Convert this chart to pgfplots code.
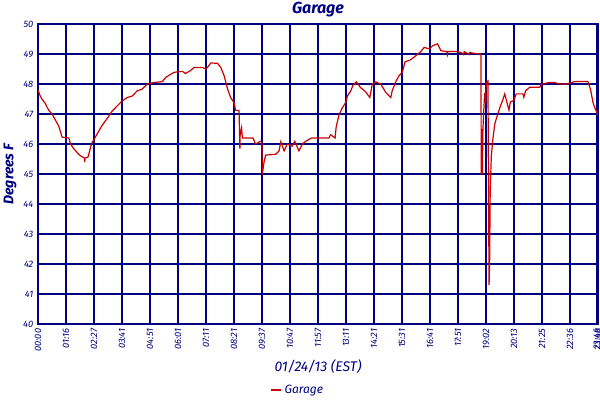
\documentclass[border=0pt]{standalone}
\usepackage{pgfplots}
\pgfplotsset{compat=1.18}
\usepackage{fontspec}
\setmainfont{Fira Sans}
\definecolor{navy}{RGB}{0,0,128}
\definecolor{gline}{RGB}{204,0,0}

\begin{document}
\begin{tikzpicture}
\useasboundingbox (-28.5pt,-57pt) rectangle (421.5pt,243pt);
\begin{axis}[
    at={(0,0)}, anchor=south west,
    scale only axis,
    width=420pt, height=225pt,
    xmin=0, xmax=20, ymin=40, ymax=50,
    xtick={0,...,20},
    xticklabels={00:00,01:16,02:27,03:41,04:51,06:01,07:11,08:21,09:37,10:47,11:57,13:11,14:21,15:31,16:41,17:51,19:02,20:13,21:25,22:36,23:48},
    extra x ticks={19.96},
    extra x tick labels={23:46},
    ytick={40,...,50},
    major tick length=0pt,
    grid=major,
    grid style={navy, line width=1.5pt},
    axis line style={navy, line width=1.5pt},
    /pgf/number format/assume math mode=true,
    x tick label style={rotate=90, anchor=east, font=\itshape\fontsize{7}{8}\selectfont, text=navy},
    y tick label style={font=\itshape\fontsize{7}{8}\selectfont, text=navy},
    title={Garage},
    title style={at={(axis description cs:0.5,1)}, anchor=center, yshift=4.5pt, font=\bfseries\itshape\fontsize{12}{14}\selectfont, text=navy},
    xlabel={01/24/13 (EST)},
    xlabel style={at={(axis description cs:0.5,0)}, anchor=center, yshift=-32.25pt, font=\itshape\fontsize{10.5}{12}\selectfont, text=navy},
    ylabel={Degrees F},
    ylabel style={at={(axis description cs:0,0.5)}, anchor=center, yshift=21pt, font=\bfseries\itshape\fontsize{10.5}{12}\selectfont, text=navy},
    legend style={at={(axis description cs:0.464,0)}, anchor=center, yshift=-49.5pt, draw=none, fill=none, font=\itshape\fontsize{9}{10}\selectfont, text=navy},
    legend image code/.code={\draw[#1] (0pt,0pt) -- (8pt,0pt);},
]
\addplot[gline, line width=0.9pt, mark=none] coordinates {
(0,47.8)(0.08,47.6)(0.14,47.5)(0.26,47.35)(0.38,47.13)(0.5,47.0)(0.62,46.8)(0.74,46.6)(0.86,46.23)(1.1,46.2)(1.16,46.0)(1.28,45.84)(1.46,45.65)(1.58,45.57)(1.66,45.53)(1.67,45.4)(1.68,45.53)(1.79,45.57)(1.87,45.87)(1.93,46.04)(2.03,46.2)(2.17,46.43)(2.29,46.62)(2.47,46.85)(2.65,47.1)(2.83,47.27)(3.01,47.44)(3.19,47.55)(3.37,47.6)(3.54,47.77)(3.72,47.83)(3.90,48.0)(4.14,48.05)(4.44,48.08)(4.56,48.22)(4.86,48.39)(5.16,48.42)(5.27,48.35)(5.45,48.45)(5.57,48.55)(5.87,48.55)(5.99,48.5)(6.05,48.55)(6.17,48.7)(6.41,48.69)(6.53,48.55)(6.65,48.27)(6.77,47.83)(6.88,47.55)(7.0,47.38)(7.06,47.12)(7.18,47.12)(7.2,46.26)(7.21,45.84)(7.22,46.3)(7.27,46.54)(7.3,46.2)(7.36,46.2)(7.68,46.2)(7.77,46.0)(7.95,46.09)(8.0,46.05)(8.01,44.98)(8.07,45.39)(8.13,45.63)(8.49,45.66)(8.61,45.77)(8.67,46.07)(8.79,45.77)(8.9,46.0)(9.08,45.93)(9.17,46.09)(9.32,45.77)(9.44,46.0)(9.56,46.09)(9.77,46.2)(10.39,46.2)(10.45,46.31)(10.61,46.2)(10.65,46.58)(10.75,46.97)(10.87,47.21)(10.99,47.38)(11.05,47.6)(11.17,47.77)(11.25,47.96)(11.37,48.07)(11.52,47.88)(11.7,47.74)(11.85,47.55)(11.94,48.0)(12.06,48.07)(12.24,48.0)(12.42,47.72)(12.6,47.55)(12.65,47.77)(12.77,48.06)(12.89,48.27)(13.01,48.39)(13.11,48.74)(13.31,48.81)(13.49,48.94)(13.67,49.08)(13.79,49.22)(13.98,49.17)(14.1,49.28)(14.27,49.34)(14.39,49.11)(14.6,49.08)(14.62,48.98)(14.64,49.08)(14.93,49.08)(15.11,49.05)(15.2,48.98)(15.22,49.08)(15.4,48.98)(15.42,49.05)(15.7,49.0)(15.82,49.0)(15.83,44.98)(15.86,46.5)(15.87,45.0)(15.89,46.5)(15.95,47.7)(15.99,47.4)(16.01,48.05)(16.07,48.1)(16.09,44.4)(16.11,41.3)(16.13,42.1)(16.15,44.45)(16.19,45.6)(16.25,46.2)(16.31,46.65)(16.37,46.85)(16.49,47.2)(16.61,47.5)(16.67,47.67)(16.73,47.45)(16.82,47.13)(16.87,47.4)(16.99,47.45)(17.08,47.67)(17.32,47.67)(17.35,47.56)(17.42,47.78)(17.56,47.89)(17.92,47.89)(17.98,48.0)(18.27,48.05)(18.45,48.05)(18.63,48.0)(18.87,48.0)(19.17,48.08)(19.64,48.08)(19.73,47.83)(19.82,47.39)(19.88,47.22)(19.94,47.1)(20,46.95)
};
\legend{Garage}
\end{axis}
\end{tikzpicture}
\end{document}
